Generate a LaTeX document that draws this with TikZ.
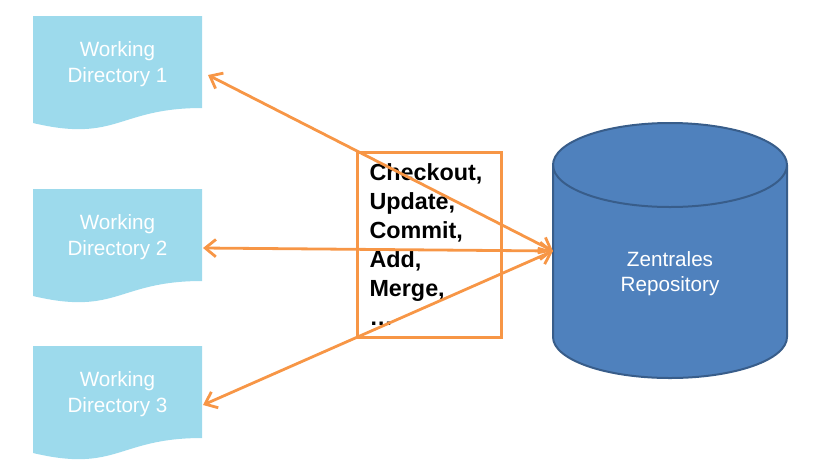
\documentclass[tikz,border=0pt]{standalone}
\usepackage{fontspec}
\setmainfont{Liberation Sans}
\usetikzlibrary{arrows.meta}
\definecolor{docblue}{RGB}{157,218,236}
\definecolor{repoblue}{RGB}{79,129,189}
\definecolor{repoedge}{RGB}{56,93,138}
\definecolor{linkorange}{RGB}{247,150,70}
\tikzstyle{doctext}=[align=center, text=white, font=\fontsize{15.5}{19.5}\selectfont]
\tikzstyle{repotext}=[align=center, text=white, font=\fontsize{15.5}{19}\selectfont]
\tikzstyle{opbox}=[rectangle, draw=linkorange, line width=2.1pt, minimum width=108pt, minimum height=139pt, text width=90pt, inner xsep=8pt, align=left, font=\fontsize{17.5}{21.75}\selectfont\bfseries]
\tikzstyle{link}=[draw=linkorange, line width=2.1pt, {Straight Barb[length=8pt,width=13pt]}-{Straight Barb[length=8pt,width=13pt]}]
\newcommand{\drawdoc}[3]
{
  \fill[docblue] (33,#1) -- (202,#1) -- (202,#1+92) .. controls (117.5,#1+92) and (117.5,#1+127) .. (33,#1+107) -- cycle;
  \node[doctext](#2) at (117.5,#1+48){Working\\Directory #3};
}

\begin{document}
\begin{tikzpicture}[x=0.75pt, y=-0.75pt]
	\useasboundingbox (0,0) rectangle (816,475);

	\drawdoc{16}{doc1}{1}
	\drawdoc{189}{doc2}{2}
	\drawdoc{346}{doc3}{3}

	% repository
	\filldraw[fill=repoblue, draw=repoedge, line width=1.5pt] (553,165) -- (553,337) arc[start angle=180, end angle=360, x radius=87.75pt, y radius=30.75pt] -- (787,165) arc[start angle=0, end angle=180, x radius=87.75pt, y radius=31.5pt] -- cycle;
	\draw[draw=repoedge, line width=1.5pt] (553,165) arc[start angle=180, end angle=360, x radius=87.75pt, y radius=31.5pt];
	\node[repotext](repo) at (670,273.5){Zentrales\\Repository};

	\node[opbox](ops) at (429.5,245){Checkout,\\Update,\\Commit,\\Add,\\Merge,\\\ldots};

	\coordinate (repo-in) at (553,251);
	\coordinate (doc1-out) at (208,75);
	\coordinate (doc2-out) at (203,248);
	\coordinate (doc3-out) at (203,405);

	\draw[link] (doc1-out) -- (repo-in);
	\draw[link] (doc2-out) -- (repo-in);
	\draw[link] (doc3-out) -- (repo-in);
\end{tikzpicture}
\end{document}
